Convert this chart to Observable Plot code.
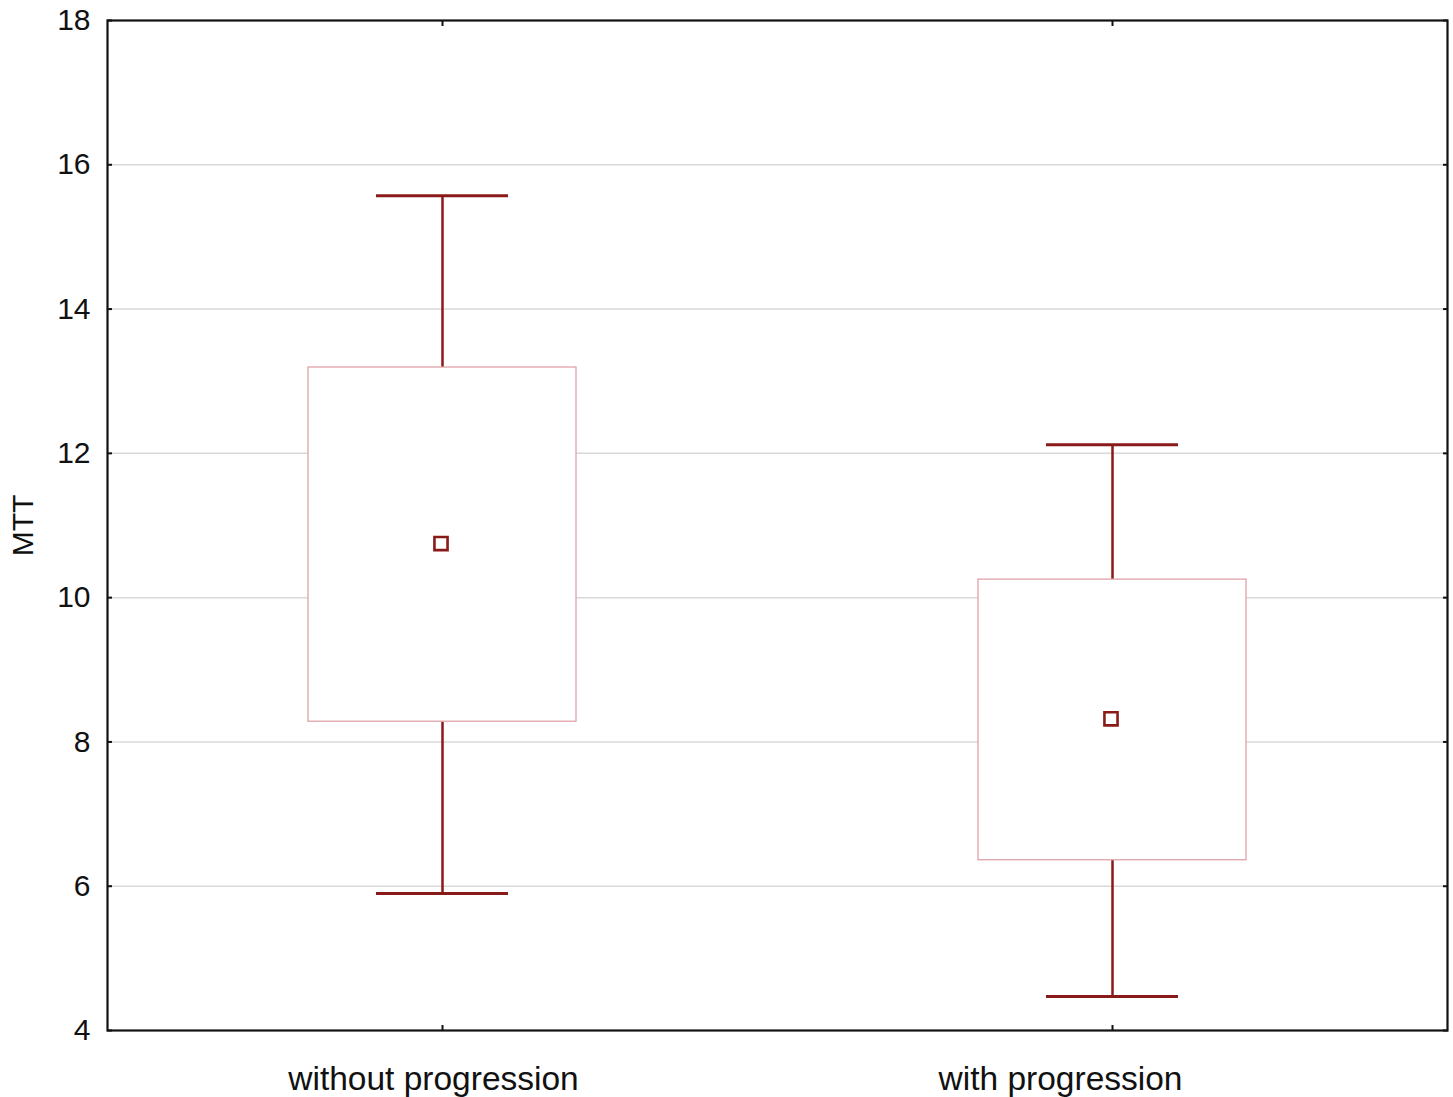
<!DOCTYPE html>
<html>
<head>
<meta charset="utf-8">
<script src="https://cdn.jsdelivr.net/npm/d3@7"></script>
<script src="https://cdn.jsdelivr.net/npm/@observablehq/plot@0.6"></script>
<style>
  html, body { margin: 0; padding: 0; background: #fff; }
</style>
</head>
<body>
<div id="chart"></div>
<script>
const categories = ["without progression", "with progression"];
const means = [10.75, 8.32];
const boxLow = [8.28, 6.36];
const boxHigh = [13.19, 10.25];
const whiskerLow = [5.90, 4.47];
const whiskerHigh = [15.57, 12.12];
const yTicks = [4, 6, 8, 10, 12, 14, 16, 18];
const gridTicks = [6, 8, 10, 12, 14, 16];

const data = categories.map((c, i) => ({
  group: c, mean: means[i], lo: boxLow[i], hi: boxHigh[i], wlo: whiskerLow[i], whi: whiskerHigh[i]
}));

const dark = "#8a1a1a";
const boxStroke = "#dfa3a8";

const chart = Plot.plot({
  width: 1453,
  height: 1097,
  marginLeft: 107,
  marginRight: 6,
  marginTop: 20,
  marginBottom: 67,
  style: { fontFamily: "'Liberation Sans', Arial, sans-serif", fontSize: "30px", color: "#111", background: "#fff" },
  x: { type: "band", domain: categories, paddingInner: 0.6, paddingOuter: 0.3, label: null },
  y: { domain: [4, 18], label: null },
  marks: [
    Plot.ruleY(gridTicks, { stroke: "#d9d9d9", strokeWidth: 1.5 }),
    Plot.ruleX(data, { x: "group", y1: "hi", y2: "whi", stroke: dark, strokeWidth: 2.5 }),
    Plot.ruleX(data, { x: "group", y1: "wlo", y2: "lo", stroke: dark, strokeWidth: 2.5 }),
    Plot.tickY(data, { x: "group", y: "whi", stroke: dark, strokeWidth: 3, insetLeft: 68, insetRight: 68 }),
    Plot.tickY(data, { x: "group", y: "wlo", stroke: dark, strokeWidth: 3, insetLeft: 68, insetRight: 68 }),
    Plot.barY(data, { x: "group", y1: "lo", y2: "hi", fill: "white", stroke: boxStroke, strokeWidth: 1.3 }),
    Plot.dot(data, { x: "group", y: "mean", symbol: "square", r: 7.4, dx: -1.5, fill: "white", stroke: dark, strokeWidth: 2.6 }),
    Plot.frame({ stroke: "#111", strokeWidth: 2.2 }),
    Plot.axisY({ anchor: "left", ticks: yTicks, tickSize: 0, tickPadding: 17, label: null }),
    Plot.axisY({ anchor: "left", ticks: yTicks, tickSize: -5, tickFormat: () => "", strokeWidth: 2, label: null }),
    Plot.axisY({ anchor: "right", ticks: yTicks, tickSize: -5, tickFormat: () => "", strokeWidth: 2, label: null }),
    Plot.axisX({ anchor: "top", tickSize: -5, tickFormat: () => "", strokeWidth: 2, label: null }),
    Plot.axisX({ anchor: "bottom", tickSize: -5, tickFormat: () => "", strokeWidth: 2, label: null }),
    Plot.axisX({ anchor: "bottom", ticks: [categories[0]], tickSize: 0, tickPadding: 36, dx: -9, fontSize: 33.5, label: null }),
    Plot.axisX({ anchor: "bottom", ticks: [categories[1]], tickSize: 0, tickPadding: 36, dx: -52, fontSize: 33.5, label: null }),
    Plot.text(["MTT"], { frameAnchor: "left", dx: -84, rotate: -90, textAnchor: "middle", fontSize: 30, text: d => d, fill: "#111" })
  ]
});

document.getElementById("chart").appendChild(chart);
</script>
</body>
</html>
